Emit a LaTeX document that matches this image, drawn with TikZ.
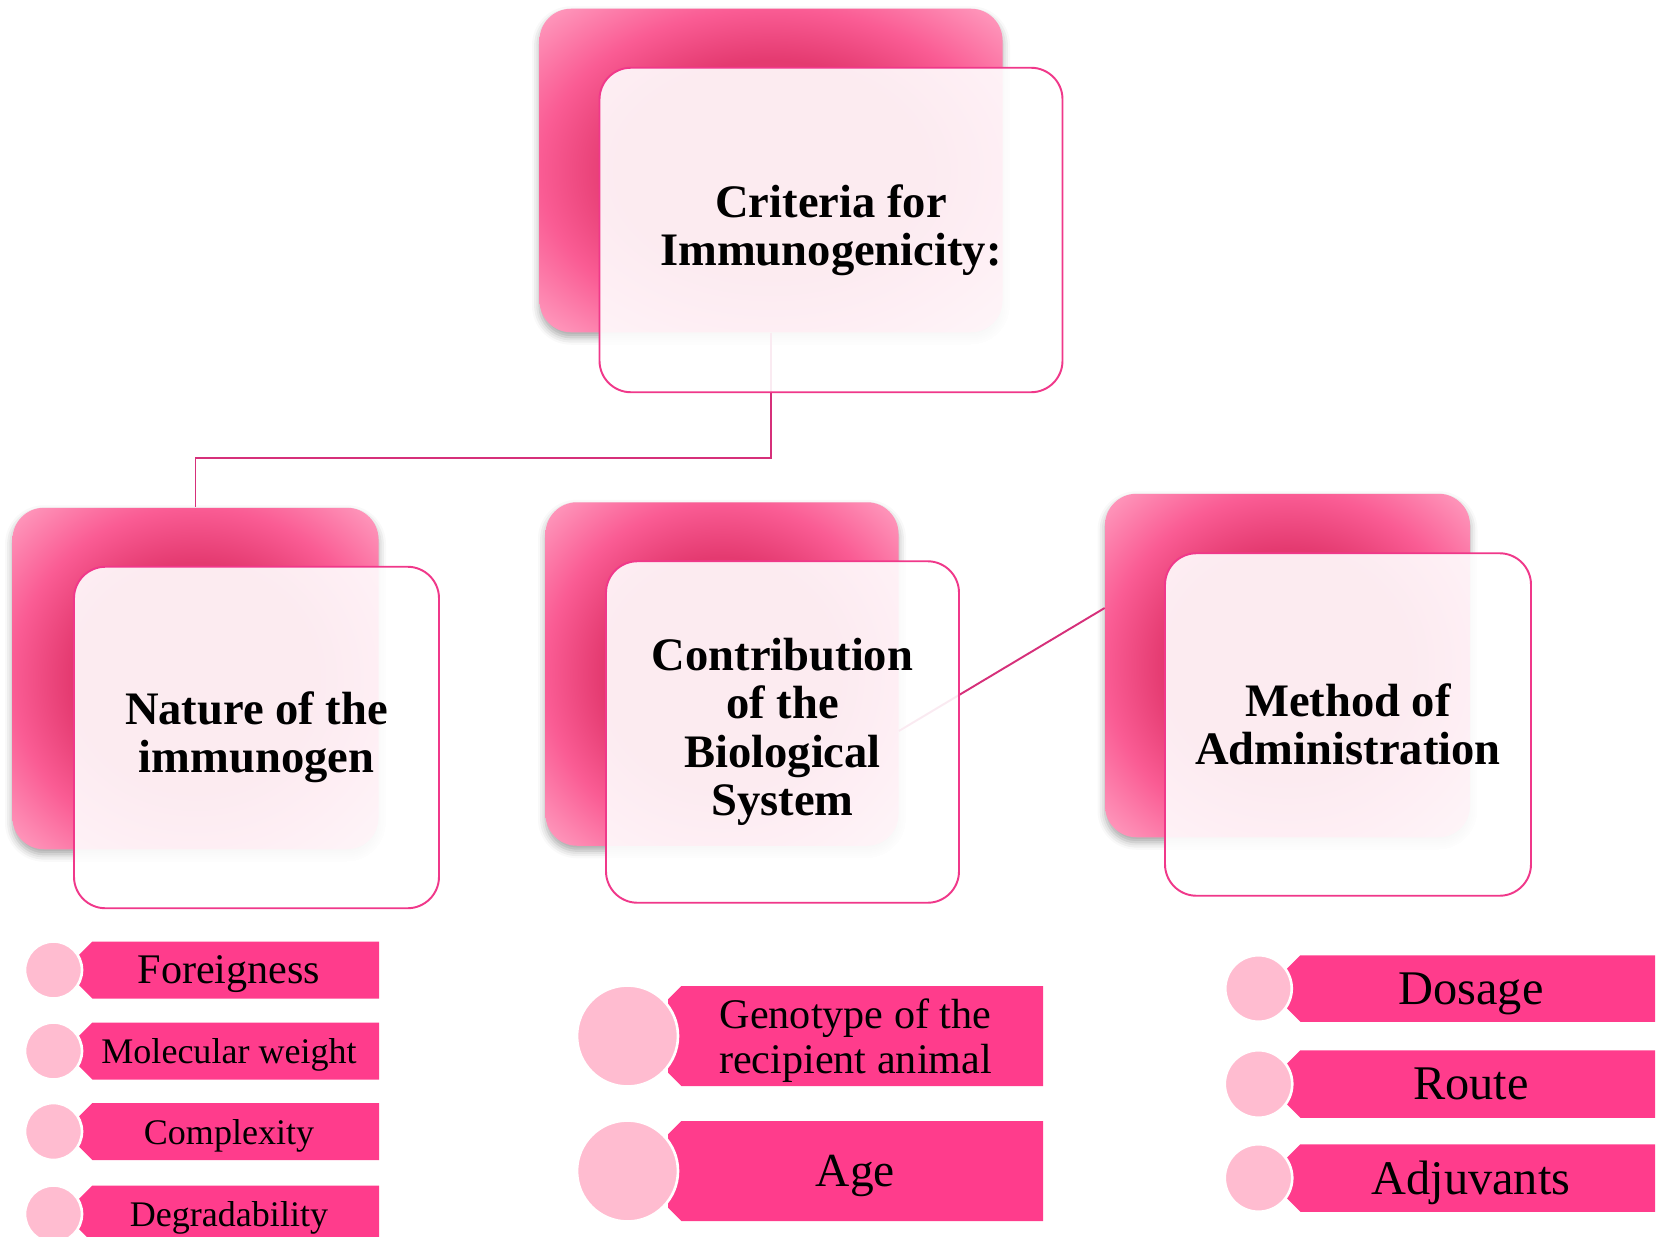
\documentclass[tikz,border=0pt]{standalone}
\usepackage{fontspec}
\setmainfont{Liberation Serif}
\usetikzlibrary{shapes.misc,shadows.blur}
\definecolor{barpink}{RGB}{255,60,140}
\definecolor{dotpink}{RGB}{255,188,208}
\definecolor{edgepink}{RGB}{240,56,138}
\definecolor{linkpink}{RGB}{214,48,122}
\definecolor{deeppink}{RGB}{228,58,112}
\definecolor{midpink}{RGB}{250,92,148}
\definecolor{litepink}{RGB}{255,164,196}
\pgfdeclareradialshading{backglow}{\pgfpoint{0bp}{0bp}}{color(0bp)=(deeppink); color(17bp)=(deeppink); color(25bp)=(midpink); color(36bp)=(litepink); color(50bp)=(litepink)}
\begin{document}
\begin{tikzpicture}[
    backbox/.style={shade,shading=backglow,rounded corners=.63cm,
        blur shadow={shadow xshift=0cm,shadow yshift=-.1cm,shadow blur radius=.15cm,shadow opacity=35}},
    frontbox/.style={draw=edgepink,line width=1.1pt,rounded corners=.63cm,fill=white,fill opacity=.9,
        text opacity=1,align=center,font=\fontsize{26.5}{27.5}\selectfont\bfseries},
    link/.style={draw=linkpink,line width=1.1pt},
    bar/.style={chamfered rectangle,chamfered rectangle corners={north west,south west},
        chamfered rectangle xsep=.16cm,fill=barpink,inner sep=0pt,text depth=0pt,align=center},
    dot/.style={circle,fill=dotpink,draw=white,line width=1.5pt,inner sep=0pt}]
    \useasboundingbox (0,0) rectangle (33.16,-24.74);
    % back boxes
    \node(crB)[backbox,minimum width=9.26cm,minimum height=6.47cm] at (15.42,-3.41){};
    \node(natB)[backbox,minimum width=7.32cm,minimum height=6.83cm] at (3.91,-13.57){};
    \node(bioB)[backbox,minimum width=7.06cm,minimum height=6.87cm] at (14.44,-13.48){};
    \node(admB)[backbox,minimum width=7.30cm,minimum height=6.87cm] at (25.75,-13.31){};
    % links
    \draw[link] (crB.south) -- ++(0,-2.5) -| (natB.north);
    \draw[link] (bioB.east |- 0,-14.62) -- ([yshift=1.15cm]admB.west);
    % front boxes
    \node(crF)[frontbox,minimum width=9.26cm,minimum height=6.49cm] at (16.62,-4.60){Criteria for\\Immunogenicity:};
    \node(natF)[frontbox,minimum width=7.30cm,minimum height=6.83cm] at (5.13,-14.75){Nature of the\\immunogen};
    \node(bioF)[frontbox,minimum width=7.06cm,minimum height=6.83cm] at (15.65,-14.64){Contribution\\of the\\Biological\\System};
    \node(admF)[frontbox,minimum width=7.32cm,minimum height=6.85cm] at (26.96,-14.49){Method of\\Administration};
    % nature of the immunogen
    \node(fo)[bar,minimum width=6cm,minimum height=1.14cm,font=\fontsize{24}{26}\selectfont] at (4.58,-19.40){Foreigness};
    \node(foD)[dot,minimum size=1.14cm] at (1.07,-19.40){};
    \node(mw)[bar,minimum width=6cm,minimum height=1.14cm,font=\fontsize{20.5}{22}\selectfont] at (4.58,-21.02){Molecular weight};
    \node(mwD)[dot,minimum size=1.14cm] at (1.07,-21.02){};
    \node(cx)[bar,minimum width=6cm,minimum height=1.14cm,font=\fontsize{20.5}{22}\selectfont] at (4.58,-22.63){Complexity};
    \node(cxD)[dot,minimum size=1.14cm] at (1.07,-22.63){};
    \node(dg)[bar,minimum width=6cm,minimum height=1.14cm,font=\fontsize{20.5}{22}\selectfont] at (4.58,-24.28){Degradability};
    \node(dgD)[dot,minimum size=1.14cm] at (1.07,-24.28){};
    % biological system
    \node(gt)[bar,minimum width=7.5cm,minimum height=2cm,font=\fontsize{24}{26}\selectfont] at (17.11,-20.72){Genotype of the\\recipient animal};
    \node(gtD)[dot,minimum size=2.02cm] at (12.55,-20.72){};
    \node(ag)[bar,minimum width=7.5cm,minimum height=2cm,font=\fontsize{27}{29}\selectfont] at (17.11,-23.42){Age};
    \node(agD)[dot,minimum size=2.02cm] at (12.55,-23.42){};
    % administration
    \node(ds)[bar,minimum width=7.36cm,minimum height=1.33cm,font=\fontsize{27.5}{29}\selectfont] at (29.42,-19.77){Dosage};
    \node(dsD)[dot,minimum size=1.33cm] at (25.17,-19.77){};
    \node(rt)[bar,minimum width=7.36cm,minimum height=1.35cm,font=\fontsize{27.5}{29}\selectfont] at (29.42,-21.68){Route};
    \node(rtD)[dot,minimum size=1.35cm] at (25.17,-21.68){};
    \node(ad)[bar,minimum width=7.36cm,minimum height=1.35cm,font=\fontsize{27.5}{29}\selectfont] at (29.42,-23.56){Adjuvants};
    \node(adD)[dot,minimum size=1.35cm] at (25.17,-23.56){};
\end{tikzpicture}
\end{document}
